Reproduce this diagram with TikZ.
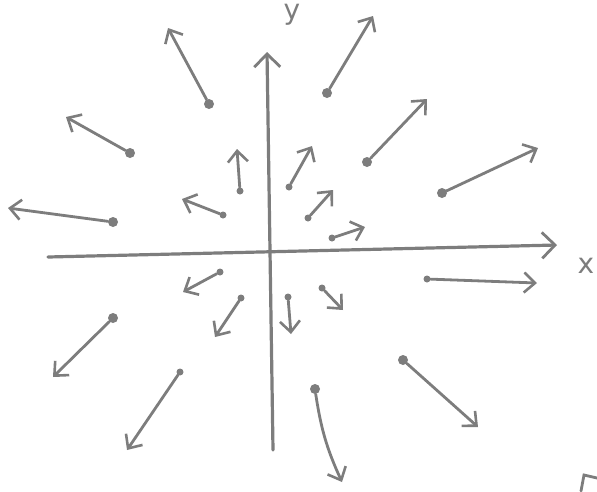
\documentclass[tikz,border=0pt]{standalone}
\usepackage{fontspec}
\setmainfont{DejaVu Sans}
\usetikzlibrary{arrows.meta}
\definecolor{pencil}{RGB}{125,125,125}
\tikzset{
  vec/.style={draw=pencil, line width=2.8pt, line cap=round,
    -{Straight Barb[length=11pt,width=20pt,line width=2.6pt]}},
  axisline/.style={draw=pencil, line width=3.2pt, line cap=round,
    -{Straight Barb[length=13pt,width=26pt,line width=2.8pt]}},
  bigdot/.style={circle, fill=pencil, inner sep=0pt, minimum size=10pt},
  smalldot/.style={circle, fill=pencil, inner sep=0pt, minimum size=7pt},
  lab/.style={text=pencil, font=\fontsize{28}{30}\selectfont}
}
\begin{document}
\begin{tikzpicture}[x=1pt,y=-1pt]
\useasboundingbox (0,0) rectangle (597,491);
% axes
\coordinate (xl) at (48,257);
\coordinate (xr) at (557,245);
\coordinate (yb) at (273,450);
\coordinate (yt) at (267,52);
\draw[axisline] (xl) -- (xr);
\draw[axisline] (yb) -- (yt);
\node[lab] (xlab) at (586,266) {x};
\node[lab] (ylab) at (292,15) {y};
% upper left
\node[bigdot] (t1) at (209,104) {}; \coordinate (h1) at (168,28);
\node[bigdot] (t2) at (130,153) {}; \coordinate (h2) at (66,117);
\node[bigdot] (t3) at (113,222) {}; \coordinate (h3) at (8,208);
\node[smalldot] (t4) at (223,215) {}; \coordinate (h4) at (182,199);
\node[smalldot] (t5) at (240,191) {}; \coordinate (h5) at (237,149);
% upper right
\node[bigdot] (t6) at (327,93) {}; \coordinate (h6) at (373,16);
\node[bigdot] (t7) at (367,162) {}; \coordinate (h7) at (427,99);
\node[bigdot] (t8) at (442,193) {}; \coordinate (h8) at (538,148);
\node[smalldot] (t9) at (308,218) {}; \coordinate (h9) at (333,190);
\node[smalldot] (t10) at (332,238) {}; \coordinate (h10) at (365,227);
\node[smalldot] (t11) at (289,187) {}; \coordinate (h11) at (312,146);
% lower right
\node[smalldot] (t12) at (427,279) {}; \coordinate (h12) at (537,283);
\node[smalldot] (t13) at (322,288) {}; \coordinate (h13) at (343,310);
\node[bigdot] (t14) at (403,360) {}; \coordinate (h14) at (478,427);
\node[bigdot] (t15) at (315,389) {}; \coordinate (h15) at (342,482);
% lower left
\node[smalldot] (t17) at (220,272) {}; \coordinate (h17) at (183,292);
\node[smalldot] (t18) at (241,298) {}; \coordinate (h18) at (215,337);
\node[smalldot] (t19) at (288,297) {}; \coordinate (h19) at (291,334);
\node[bigdot] (t20) at (113,318) {}; \coordinate (h20) at (53,377);
\node[smalldot] (t21) at (180,372) {}; \coordinate (h21) at (127,450);
\foreach \i in {1,...,14,17,18,19,20,21}{
  \draw[vec] (t\i) -- (h\i);
}
\draw[vec] (t15) to[bend right=8] (h15);
% partial arrow at the lower right corner
\coordinate (c1) at (597,478);
\coordinate (c2) at (584,475);
\coordinate (c3) at (581,491);
\draw[draw=pencil, line width=2.8pt, line cap=round] (c1) -- (c2) -- (c3);
\end{tikzpicture}
\end{document}
